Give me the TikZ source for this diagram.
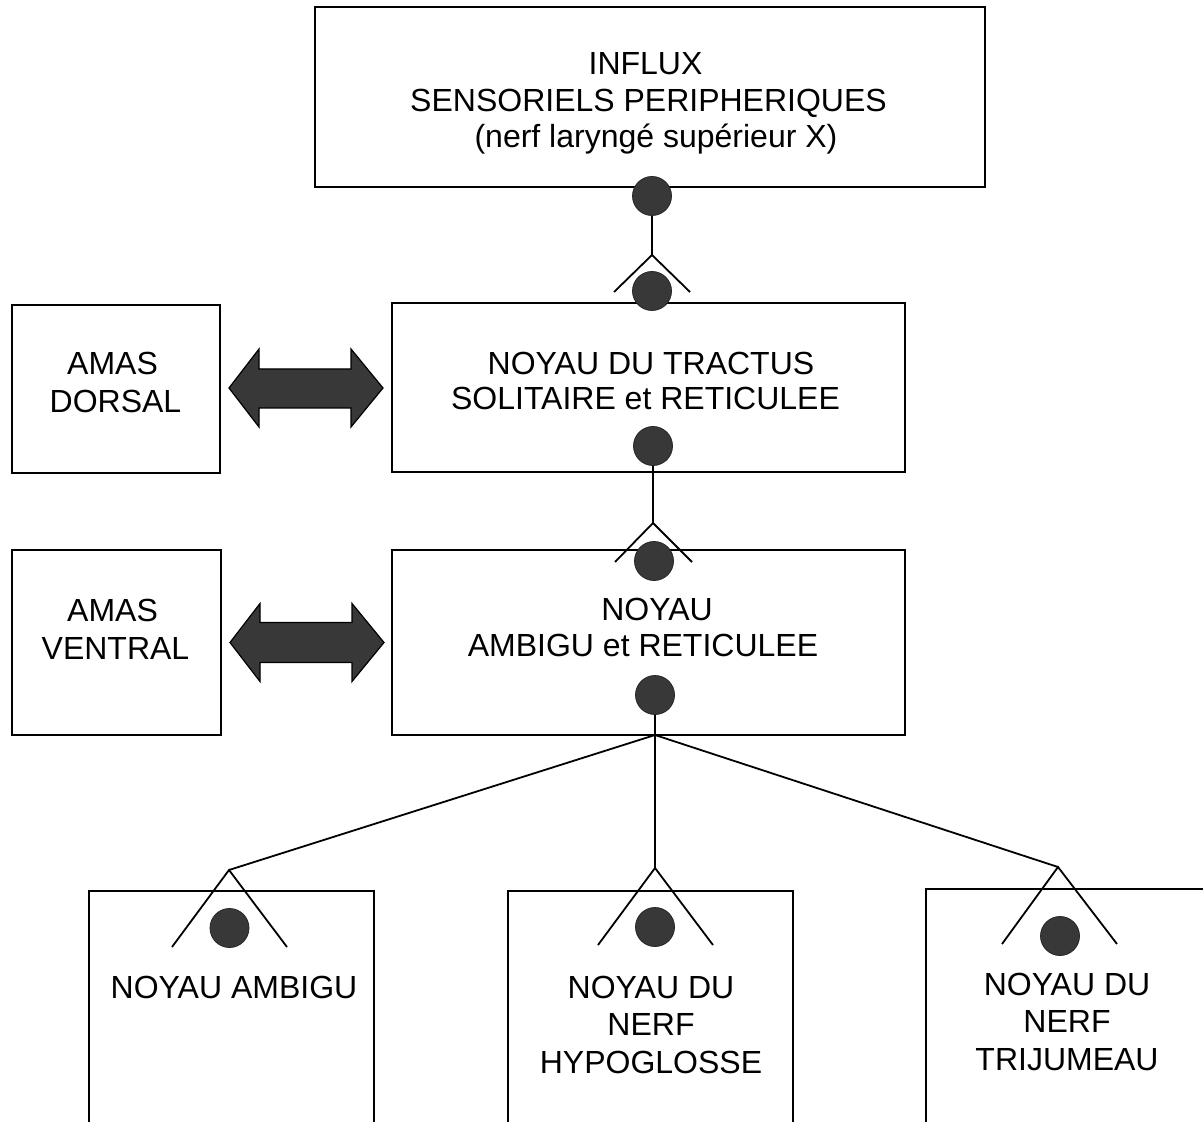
\documentclass[tikz,border=0pt]{standalone}
\usepackage{fontspec}
\setmainfont{Liberation Sans}
\definecolor{dotgray}{HTML}{383838}
\begin{document}
\begin{tikzpicture}[x=0.5pt,y=-0.5pt,
  box/.style={draw=black,line width=1pt,inner sep=0pt,rectangle},
  lbl/.style={font=\fontsize{16}{19}\selectfont,inner sep=0pt,anchor=base},
  dot/.style={circle,fill=dotgray,draw=black!85,line width=0.4pt,minimum size=19.5pt,inner sep=0pt},
  conn/.style={draw=black,line width=0.9pt},
  bigarrow/.style={fill=dotgray,draw=black,line width=0.6pt,line join=miter}]
\path[use as bounding box,fill=white] (0,0) rectangle (1203,1122);
\clip (0,0) rectangle (1203,1122);

% boxes
\node[box,minimum width=335pt,minimum height=90pt] (top) at (650,97) {};
\node[box,minimum width=256.5pt,minimum height=84.5pt] (nts) at (648.5,387.5) {};
\node[box,minimum width=256.5pt,minimum height=92.5pt] (amb) at (648.5,642.5) {};
\node[box,minimum width=104pt,minimum height=84pt] (dorsal) at (116,389) {};
\node[box,minimum width=104.5pt,minimum height=92.5pt] (ventral) at (116.5,642.5) {};
\node[box,minimum width=142.5pt,minimum height=130pt] (bamb) at (231.5,1021) {};
\node[box,minimum width=142.5pt,minimum height=130pt] (bhyp) at (650.5,1021) {};
\node[box,minimum width=147pt,minimum height=130pt] (btri) at (1073,1019) {};

% texts
\node[lbl] (t1a) at (645.5,75) {INFLUX};
\node[lbl] (t1b) at (648.5,112) {SENSORIELS PERIPHERIQUES};
\node[lbl] (t1c) at (656,148) {(nerf laryngé supérieur X)};
\node[lbl] (t2a) at (651,375) {NOYAU DU TRACTUS};
\node[lbl] (t2b) at (645.5,410) {SOLITAIRE et RETICULEE};
\node[lbl] (t3a) at (657,620) {NOYAU};
\node[lbl] (t3b) at (643,656) {AMBIGU et RETICULEE};
\node[lbl] (td1) at (112.5,375) {AMAS};
\node[lbl] (td2) at (115.5,413) {DORSAL};
\node[lbl] (tv1) at (112.5,621) {AMAS};
\node[lbl] (tv2) at (115.5,659) {VENTRAL};
\node[lbl] (tb1) at (234,998) {NOYAU AMBIGU};
\node[lbl] (tb2a) at (651,998) {NOYAU DU};
\node[lbl] (tb2b) at (651,1035) {NERF};
\node[lbl] (tb2c) at (651,1073) {HYPOGLOSSE};
\node[lbl] (tb3a) at (1067,995) {NOYAU DU};
\node[lbl] (tb3b) at (1067,1032) {NERF};
\node[lbl] (tb3c) at (1067,1070) {TRIJUMEAU};

% synapse dots
\node[dot] (d1) at (652,196) {};
\node[dot] (d2) at (652,291) {};
\node[dot] (d3) at (653,446) {};
\node[dot] (d4) at (654,561) {};
\node[dot] (d5) at (655,695) {};
\node[dot] (d6) at (229.5,928) {};
\node[dot] (d7) at (655,927) {};
\node[dot] (d8) at (1060,936) {};

% connectors
\coordinate (b1) at (652,255);
\coordinate (b1l) at (614,292);
\coordinate (b1r) at (690,292);
\draw[conn] (d1) -- (b1);
\draw[conn] (b1l) -- (b1) -- (b1r);

\coordinate (b2) at (653,523);
\coordinate (b2l) at (615,562);
\coordinate (b2r) at (692,562);
\draw[conn] (d3) -- (b2);
\draw[conn] (b2l) -- (b2) -- (b2r);

\coordinate (hub) at (655,735);
\draw[conn] (d5) -- (hub);
\coordinate (b3) at (229,870);
\coordinate (b3l) at (172,947);
\coordinate (b3r) at (287,947);
\coordinate (b4) at (655,868);
\coordinate (b4l) at (598,945);
\coordinate (b4r) at (713,945);
\coordinate (b5) at (1058,867);
\coordinate (b5l) at (1002,944);
\coordinate (b5r) at (1117,944);
\draw[conn] (hub) -- (b3);
\draw[conn] (hub) -- (b4);
\draw[conn] (hub) -- (b5);
\draw[conn] (b3l) -- (b3) -- (b3r);
\draw[conn] (b4l) -- (b4) -- (b4r);
\draw[conn] (b5l) -- (b5) -- (b5r);

% double arrows
\begin{scope}[shift={(dorsal.east)}]
\draw[bigarrow] (8,-1) -- (38,-40) -- (38,-20) -- (130,-20) -- (130,-40) -- (162,-1)
  -- (130,38) -- (130,19) -- (38,19) -- (38,38) -- cycle;
\end{scope}
\begin{scope}[shift={(ventral.east)}]
\draw[bigarrow] (8,0) -- (38,-39) -- (38,-20) -- (130,-20) -- (130,-39) -- (162,0)
  -- (130,39) -- (130,20) -- (38,20) -- (38,39) -- cycle;
\end{scope}
\end{tikzpicture}
\end{document}
